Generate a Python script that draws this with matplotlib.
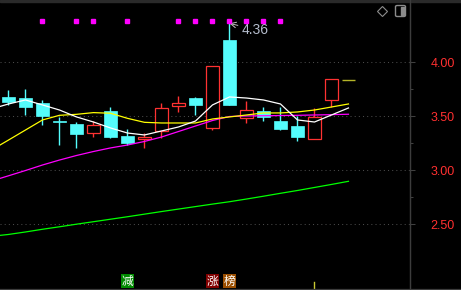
import matplotlib.pyplot as plt
from matplotlib.patches import Rectangle, FancyBboxPatch
from matplotlib.lines import Line2D
from matplotlib.transforms import blended_transform_factory

plt.rcParams['font.family'] = ['Liberation Sans', 'Noto Sans CJK SC', 'DejaVu Sans']

# daily candles, index 0..20 (last one is today's flat bar)
opens = [3.68, 3.67, 3.625, 3.455, 3.43, 3.345, 3.55, 3.32, 3.29, 3.365,
         3.595, 3.67, 3.39, 4.205, 3.485, 3.55, 3.455, 3.41, 3.29, 3.65, 3.84]
highs = [3.74, 3.75, 3.65, 3.495, 3.445, 3.455, 3.585, 3.38, 3.345, 3.625,
         3.69, 3.68, 3.965, 4.36, 3.64, 3.585, 3.585, 3.505, 3.575, 3.845, 3.84]
lows = [3.60, 3.51, 3.42, 3.235, 3.205, 3.31, 3.30, 3.235, 3.205, 3.30,
        3.54, 3.51, 3.375, 3.605, 3.44, 3.455, 3.375, 3.27, 3.29, 3.585, 3.84]
closes = [3.635, 3.585, 3.505, 3.445, 3.335, 3.42, 3.31, 3.255, 3.31, 3.575,
          3.625, 3.605, 3.965, 3.605, 3.56, 3.495, 3.38, 3.31, 3.495, 3.845, 3.84]

# moving averages, index -1..20
ma_x = list(range(-1, 21))
ma5 = [3.568, 3.614, 3.651, 3.605, 3.558, 3.494, 3.447, 3.392, 3.345, 3.327, 3.364,
       3.401, 3.456, 3.605, 3.679, 3.669, 3.651, 3.614, 3.466, 3.447, 3.512, 3.577]
ma10 = [3.188, 3.280, 3.373, 3.466, 3.509, 3.518, 3.534, 3.528, 3.481, 3.444, 3.438,
        3.438, 3.438, 3.475, 3.494, 3.512, 3.531, 3.531, 3.540, 3.558, 3.586, 3.614]
ma20 = [2.901, 2.949, 2.998, 3.049, 3.095, 3.137, 3.174, 3.207, 3.234, 3.267, 3.308,
        3.359, 3.410, 3.461, 3.498, 3.503, 3.505, 3.507, 3.509, 3.512, 3.515, 3.519]
ma60 = [2.389, 2.406, 2.429, 2.454, 2.477, 2.501, 2.524, 2.547, 2.570, 2.594, 2.618,
        2.641, 2.664, 2.687, 2.709, 2.734, 2.760, 2.787, 2.813, 2.841, 2.869, 2.898]

signal_idx = [2, 4, 5, 7, 10, 11, 12, 13, 14, 15, 16]
tag_idx = [7, 12, 13]
tag_text = ['减', '涨', '榜']
tag_colors = ['#008a00', '#800000', '#9a4e00']
mark_idx = 18
y_ticks = [2.5, 3.0, 3.5, 4.0]
y_minor = [2.75, 3.25, 3.75]

RED = '#ff3232'
CYAN = '#54fcfc'

fig = plt.figure(figsize=(4.61, 2.90), dpi=100, facecolor='black')
ax = fig.add_axes([0, 1 / 290, 409.5 / 461, 287 / 290], facecolor='black')
trans = blended_transform_factory(ax.transData, ax.transAxes)

w = 0.74
for i in range(len(opens) - 1):
    o, h, l, c = opens[i], highs[i], lows[i], closes[i]
    if c >= o:
        ax.vlines(i, c, h, color=RED, lw=1, zorder=2)
        ax.vlines(i, l, o, color=RED, lw=1, zorder=2)
        ax.add_patch(Rectangle((i - w / 2, o), w, max(c - o, 0.004), facecolor='black',
                               edgecolor=RED, lw=0.9, zorder=3))
    else:
        ax.vlines(i, l, h, color=CYAN, lw=1, zorder=2)
        ax.add_patch(Rectangle((i - w / 2, c), w, max(o - c, 0.008), facecolor=CYAN,
                               edgecolor=CYAN, lw=0.5, zorder=3))
last = len(opens) - 1
ax.hlines(closes[last], last - w / 2, last + w / 2, color='#b4b428', lw=1, zorder=3)

ax.plot(ma_x, ma60, color='#00ff00', lw=0.9, zorder=4)
ax.plot(ma_x, ma20, color='#ff00ff', lw=0.9, zorder=4)
ax.plot(ma_x, ma10, color='#ffff00', lw=0.9, zorder=4)
ax.plot(ma_x, ma5, color='#ffffff', lw=0.9, zorder=5)

ax.plot(signal_idx, [0.933] * len(signal_idx), transform=trans, ls='none', marker='s',
        ms=2.6, color='#ff00ff', zorder=6)

top = highs.index(max(highs))
ax.annotate(f'{highs[top]:.2f}', xy=(top, highs[top]), xytext=(9, -4.5),
            textcoords='offset points', color='#b4bccc', fontsize=10, ha='left', va='center',
            arrowprops=dict(arrowstyle='->', color='#c0c0c0', lw=0.7, shrinkA=1, shrinkB=0))

for i, t, c in zip(tag_idx, tag_text, tag_colors):
    ax.text(i, 0.027, t, transform=trans, ha='center', va='center', color='white',
            fontsize=8.5, family=['Noto Sans CJK SC'],
            bbox=dict(boxstyle='square,pad=0.06', fc=c, ec='none'), zorder=6)
ax.axvline(mark_idx, ymin=0.004, ymax=0.023, color='#c8c832', lw=1)

ax.set_xlim(-0.5, 23.59)
ax.set_ylim(1.901, 4.558)
ax.set_xticks([])
ax.set_yticks(y_ticks)
ax.set_yticks(y_minor, minor=True)
ax.set_yticklabels([f'{v:.2f}' for v in y_ticks])
ax.yaxis.tick_right()
ax.tick_params(axis='y', which='major', colors='#404040', labelcolor='#ff3030',
               length=3.6, width=0.75, pad=11.5, labelsize=9, grid_color='#4a4a4a')
ax.tick_params(axis='y', which='minor', colors='#404040', length=1.8, width=0.75)
ax.yaxis.grid(True, which='major', color='#4a4a4a', linestyle=(0, (1, 3)), linewidth=0.75)
for s in ['left', 'top', 'bottom']:
    ax.spines[s].set_visible(False)
ax.spines['right'].set_color('#3c3c3c')
ax.spines['right'].set_linewidth(0.9)

# frame bits outside the plot
fig.add_artist(Rectangle((0, 1 - 2 / 290), 1, 2 / 290, transform=fig.transFigure,
                         color='#2a2a2a'))
fig.add_artist(Line2D([0, 1], [1.2 / 290, 1.2 / 290], transform=fig.transFigure,
                      color='#3c3c3c', lw=0.9))
fig.add_artist(Line2D([409.5 / 461] * 2, [0, 1], transform=fig.transFigure,
                      color='#3c3c3c', lw=0.9))
fig.add_artist(Line2D([381.7 / 461], [1 - 11 / 290], transform=fig.transFigure,
                      marker='D', ms=5.5, mfc='none', mec='#8c8c8c', mew=0.8))
fig.add_artist(FancyBboxPatch((395.5 / 461, 1 - 16.5 / 290), 10 / 461, 11 / 290,
                              boxstyle='round,pad=0,rounding_size=0.004',
                              transform=fig.transFigure, fc='none', ec='#8c8c8c', lw=1))
fig.add_artist(Rectangle((400.5 / 461, 1 - 14.5 / 290), 3 / 461, 7 / 290,
                         transform=fig.transFigure, color='#8c8c8c'))

fig.savefig('out.png', dpi=100, facecolor='black')
